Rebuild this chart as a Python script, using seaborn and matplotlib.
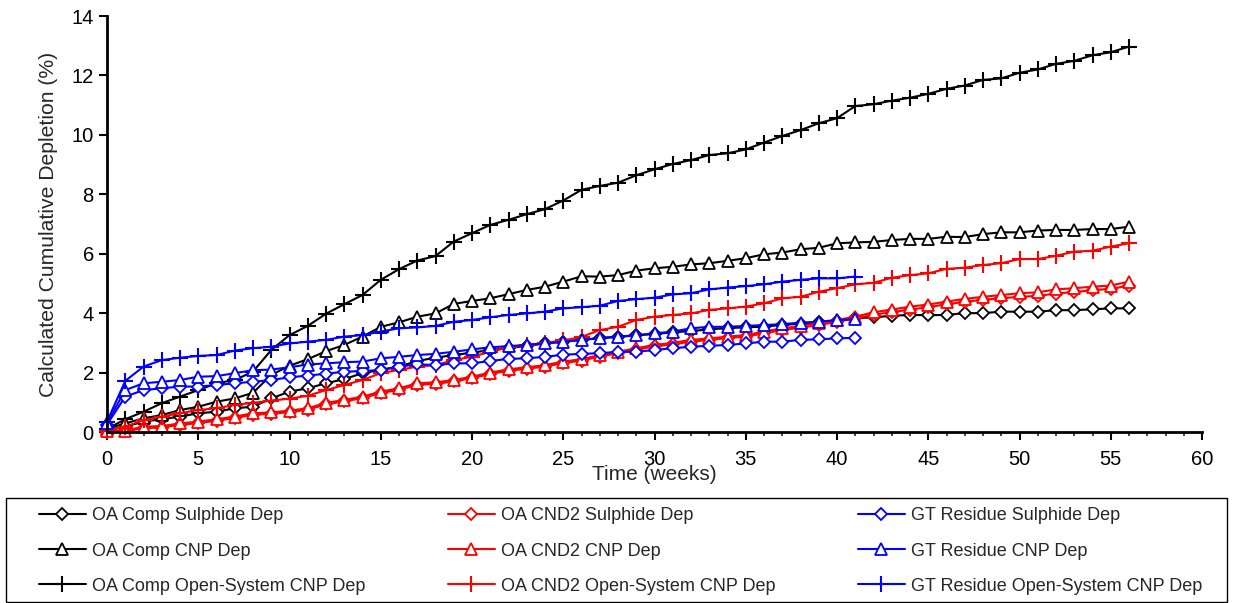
import numpy as np
import pandas as pd
import matplotlib
matplotlib.use("Agg")
import matplotlib.pyplot as plt
from matplotlib.ticker import MultipleLocator
from matplotlib.patches import Rectangle
import seaborn as sns

# ---------------- data ----------------
weeks_oa = list(range(0, 57))
weeks_gt = list(range(0, 42))

oa_comp_sulphide = [0.05, 0.18, 0.35, 0.43, 0.52, 0.63, 0.68, 0.80, 0.85, 1.13,
                    1.36, 1.47, 1.64, 1.78, 1.98, 2.09, 2.20, 2.39, 2.50, 2.59,
                    2.67, 2.76, 2.82, 2.90, 2.98, 3.04, 3.10, 3.15, 3.20, 3.25,
                    3.30, 3.35, 3.40, 3.45, 3.50, 3.52, 3.55, 3.60, 3.65, 3.70,
                    3.75, 3.83, 3.86, 3.91, 3.94, 3.93, 3.94, 4.00, 4.00, 4.05,
                    4.05, 4.05, 4.10, 4.10, 4.13, 4.16, 4.16]
oa_comp_cnp = [0.10, 0.29, 0.46, 0.57, 0.74, 0.85, 1.02, 1.13, 1.32, 1.92,
               2.23, 2.45, 2.72, 2.93, 3.21, 3.54, 3.69, 3.88, 3.99, 4.31,
               4.41, 4.50, 4.64, 4.78, 4.89, 5.06, 5.24, 5.23, 5.28, 5.43,
               5.51, 5.56, 5.64, 5.68, 5.76, 5.85, 5.98, 6.04, 6.15, 6.20,
               6.35, 6.38, 6.40, 6.46, 6.50, 6.50, 6.57, 6.56, 6.66, 6.72,
               6.72, 6.78, 6.80, 6.80, 6.83, 6.83, 6.91]
oa_comp_open = [0.10, 0.43, 0.68, 0.97, 1.19, 1.41, 1.64, 1.75, 2.03, 2.76,
                3.26, 3.57, 3.98, 4.30, 4.61, 5.12, 5.48, 5.77, 5.92, 6.41,
                6.69, 6.97, 7.14, 7.33, 7.50, 7.79, 8.15, 8.28, 8.39, 8.64,
                8.84, 9.02, 9.15, 9.32, 9.38, 9.51, 9.74, 9.96, 10.16, 10.39,
                10.56, 10.97, 11.03, 11.15, 11.25, 11.38, 11.55, 11.66, 11.85, 11.90,
                12.09, 12.20, 12.39, 12.49, 12.68, 12.78, 12.97]

cnd2_sulphide = [0.00, 0.02, 0.13, 0.15, 0.24, 0.30, 0.38, 0.47, 0.58, 0.61,
                 0.67, 0.75, 0.93, 1.03, 1.14, 1.31, 1.42, 1.59, 1.62, 1.70,
                 1.81, 1.95, 2.06, 2.13, 2.20, 2.32, 2.40, 2.54, 2.65, 2.77,
                 2.88, 2.95, 3.04, 3.10, 3.16, 3.21, 3.32, 3.43, 3.51, 3.60,
                 3.71, 3.82, 3.95, 4.03, 4.12, 4.20, 4.30, 4.38, 4.45, 4.50,
                 4.55, 4.58, 4.66, 4.71, 4.77, 4.82, 4.92]
cnd2_cnp = [0.02, 0.05, 0.18, 0.20, 0.29, 0.35, 0.43, 0.52, 0.63, 0.66,
            0.72, 0.80, 0.98, 1.08, 1.19, 1.36, 1.47, 1.64, 1.67, 1.75,
            1.86, 2.00, 2.11, 2.18, 2.25, 2.37, 2.45, 2.59, 2.70, 2.82,
            2.93, 3.00, 3.10, 3.15, 3.21, 3.26, 3.38, 3.49, 3.57, 3.66,
            3.77, 3.88, 4.03, 4.12, 4.22, 4.29, 4.39, 4.48, 4.55, 4.61,
            4.67, 4.70, 4.80, 4.84, 4.89, 4.93, 5.06]
cnd2_open = [0.05, 0.18, 0.40, 0.52, 0.63, 0.74, 0.80, 0.91, 0.98, 1.06,
             1.12, 1.22, 1.41, 1.58, 1.75, 1.98, 2.09, 2.20, 2.25, 2.42,
             2.53, 2.70, 2.85, 2.93, 3.00, 3.08, 3.20, 3.43, 3.54, 3.77,
             3.88, 3.94, 3.99, 4.11, 4.16, 4.22, 4.33, 4.50, 4.55, 4.72,
             4.84, 4.97, 5.02, 5.19, 5.28, 5.34, 5.49, 5.53, 5.62, 5.68,
             5.82, 5.82, 5.93, 6.07, 6.10, 6.24, 6.35]

gt_sulphide = [0.25, 1.19, 1.41, 1.47, 1.53, 1.53, 1.58, 1.64, 1.69, 1.75,
               1.84, 1.90, 1.96, 2.03, 2.05, 2.09, 2.20, 2.28, 2.25, 2.31,
               2.31, 2.39, 2.46, 2.48, 2.53, 2.60, 2.63, 2.65, 2.70, 2.70,
               2.76, 2.82, 2.87, 2.90, 2.93, 2.98, 3.04, 3.04, 3.10, 3.12,
               3.15, 3.17]
gt_cnp = [0.30, 1.41, 1.64, 1.69, 1.75, 1.86, 1.88, 1.98, 2.08, 2.10,
          2.18, 2.27, 2.31, 2.35, 2.37, 2.48, 2.53, 2.59, 2.63, 2.70,
          2.78, 2.85, 2.89, 2.93, 2.98, 3.04, 3.10, 3.17, 3.21, 3.26,
          3.32, 3.38, 3.49, 3.54, 3.54, 3.57, 3.60, 3.63, 3.68, 3.71,
          3.77, 3.79]
gt_open = [0.35, 1.72, 2.20, 2.42, 2.50, 2.56, 2.59, 2.74, 2.82, 2.87,
           2.98, 3.04, 3.10, 3.21, 3.26, 3.38, 3.49, 3.52, 3.57, 3.71,
           3.77, 3.86, 3.94, 3.99, 4.05, 4.16, 4.20, 4.25, 4.41, 4.47,
           4.52, 4.63, 4.67, 4.80, 4.86, 4.91, 4.97, 5.06, 5.12, 5.17,
           5.17, 5.23]

series_labels = ["OA Comp Sulphide Dep", "OA Comp CNP Dep", "OA Comp Open-System CNP Dep",
                 "OA CND2 Sulphide Dep", "OA CND2 CNP Dep", "OA CND2 Open-System CNP Dep",
                 "GT Residue Sulphide Dep", "GT Residue CNP Dep", "GT Residue Open-System CNP Dep"]
x_ticks = list(range(0, 61, 5))
y_ticks = list(range(0, 15, 2))

# ---------------- style ----------------
sns.set_style("ticks")
plt.rcParams["font.family"] = ["Liberation Sans", "DejaVu Sans"]

series = [
    (weeks_oa, oa_comp_sulphide), (weeks_oa, oa_comp_cnp), (weeks_oa, oa_comp_open),
    (weeks_oa, cnd2_sulphide), (weeks_oa, cnd2_cnp), (weeks_oa, cnd2_open),
    (weeks_gt, gt_sulphide), (weeks_gt, gt_cnp), (weeks_gt, gt_open),
]
colors = ["black"] * 3 + ["#ff0000"] * 3 + ["#0000ff"] * 3
markers = ["D", "^", "+"] * 3
msizes = {"D": 6.5, "^": 9, "+": 11}

W, H = 1233, 603
fig = plt.figure(figsize=(W / 100, H / 100), dpi=100)
ax = fig.add_axes([107 / W, 1 - 432 / H, (1202 - 107) / W, (432 - 16) / H])

for (xs, ys), lab, c, m in zip(series, series_labels, colors, markers):
    df = pd.DataFrame({"week": xs, "val": ys})
    kw = dict(marker=m, markersize=msizes[m], markeredgecolor=c, color=c,
              linewidth=1.5, clip_on=False)
    if m != "+":
        kw.update(markerfacecolor="white", markeredgewidth=1.3)
    else:
        kw.update(markeredgewidth=1.5)
    sns.lineplot(data=df, x="week", y="val", ax=ax, label=lab, **kw)

ax.set_xlim(0, 60)
ax.set_ylim(0, 14)
ax.set_xticks(x_ticks)
ax.set_yticks(y_ticks)
ax.xaxis.set_minor_locator(MultipleLocator(1))
ax.tick_params(axis="both", which="major", direction="out", length=6, width=1.5,
               labelsize=14.5, colors="black")
ax.tick_params(axis="x", which="major", pad=7)
ax.tick_params(axis="x", which="minor", direction="out", length=3, width=1.2,
               bottom=True)
for s in ["top", "right"]:
    ax.spines[s].set_visible(False)
for s in ["left", "bottom"]:
    ax.spines[s].set_linewidth(2)
    ax.spines[s].set_color("black")

ax.set_xlabel("Time (weeks)", fontsize=15, labelpad=-3)
ax.set_ylabel("Calculated Cumulative Depletion (%)", fontsize=15.2, labelpad=10)

handles, labels = ax.get_legend_handles_labels()
ax.get_legend().remove()

# legend frame
fig.patches.append(Rectangle((6 / W, 1 / H), 1221 / W, 104 / H,
                             transform=fig.transFigure, fill=False,
                             edgecolor="black", linewidth=1.0))
col_x = [39, 448, 858]
for i, x0 in enumerate(col_x):
    lg = fig.legend(handles[3 * i:3 * i + 3], labels[3 * i:3 * i + 3],
                    loc="upper left", bbox_to_anchor=(x0 / W, 1 - 507.5 / H),
                    frameon=False, borderpad=0, borderaxespad=0, fontsize=13,
                    handlelength=2.6, handletextpad=0.33, labelspacing=1.0)

fig.savefig("out.png", dpi=100)
